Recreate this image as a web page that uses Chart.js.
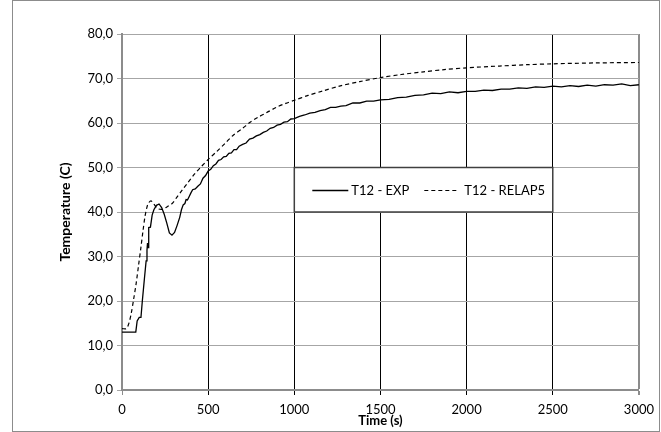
<!DOCTYPE html>
<html>
<head>
<meta charset="utf-8">
<script src="https://cdn.jsdelivr.net/npm/chart.js@4"></script>
<style>
  html, body { margin: 0; padding: 0; background: #fff; }
  #wrap { width: 661px; height: 432px; }
</style>
</head>
<body>
<div id="wrap"><canvas id="tempChart" width="661" height="432"></canvas></div>
<script>
const expTime = [0, 40, 80, 88, 100, 110, 118, 130, 140, 145, 148, 151, 155, 165, 175, 185, 200, 215, 230, 245,
  260, 275, 290, 305, 320, 335, 345, 355, 365, 372, 380, 390, 400, 410, 425, 440, 455, 470, 485, 500,
  515, 530, 545, 560, 575, 590, 605, 620, 635, 650, 665, 680, 700, 720, 740, 760, 780, 800, 820, 840,
  860, 880, 900, 920, 940, 960, 980, 1000, 1030, 1060, 1090, 1120, 1150, 1180, 1210, 1240, 1270, 1300, 1340, 1380,
  1420, 1460, 1500, 1550, 1600, 1650, 1700, 1750, 1800, 1850, 1900, 1950, 2000, 2050, 2100, 2150, 2200, 2250, 2300, 2350,
  2400, 2450, 2500, 2550, 2600, 2650, 2700, 2750, 2800, 2850, 2900, 2950, 3000];
const expTemp = [13.0, 13.0, 13.0, 15.5, 16.3, 16.3, 20.0, 25.0, 29.0, 31.4, 33.0, 32.0, 36.5, 36.6, 39.3, 40.5, 41.5, 41.8, 41.0, 39.5,
  37.5, 35.3, 34.8, 35.4, 37.0, 38.8, 40.5, 41.6, 41.9, 42.8, 42.7, 43.5, 44.3, 45.0, 45.2, 45.8, 46.3, 47.6, 48.2, 49.2,
  49.6, 50.4, 50.8, 51.6, 51.8, 52.4, 52.5, 53.2, 53.3, 54.0, 54.0, 54.8, 55.2, 55.5, 56.4, 56.6, 57.1, 57.4, 57.9, 58.2,
  58.8, 59.0, 59.5, 59.7, 60.2, 60.3, 60.9, 61.0, 61.5, 61.8, 62.2, 62.4, 62.8, 63.0, 63.5, 63.5, 63.8, 63.9, 64.5, 64.5,
  64.9, 64.9, 65.2, 65.3, 65.7, 65.8, 66.2, 66.3, 66.7, 66.6, 67.0, 66.8, 67.1, 67.1, 67.4, 67.3, 67.6, 67.6, 67.9, 67.8,
  68.1, 68.0, 68.3, 68.1, 68.4, 68.2, 68.5, 68.3, 68.6, 68.5, 68.8, 68.4, 68.6];

// T12 - RELAP5 (calculated)
const relapTime = [0, 25, 40, 53, 68, 82, 96, 110, 122, 133, 143, 152, 168, 183, 206, 234, 263, 291, 320, 349,
  380, 420, 460, 500, 550, 600, 644, 700, 741, 790, 838, 900, 950, 1000, 1080, 1166, 1262, 1380, 1500, 1620,
  1750, 1870, 2000, 2190, 2350, 2500, 2750, 3000];
const relapTemp = [13.8, 13.8, 15.0, 17.1, 20.5, 23.9, 28.0, 32.1, 35.8, 38.9, 40.8, 41.9, 42.5, 41.9, 40.8, 40.6, 41.2, 41.9, 43.4, 44.9,
  46.5, 48.5, 50.2, 51.8, 53.6, 55.5, 57.2, 58.8, 60.1, 61.3, 62.3, 63.6, 64.4, 65.1, 66.2, 67.2, 68.3, 69.3, 70.2, 70.9,
  71.5, 72.0, 72.4, 72.8, 73.1, 73.3, 73.5, 73.6];

const xTicks = [0, 500, 1000, 1500, 2000, 2500, 3000];
const yTicks = [0, 10, 20, 30, 40, 50, 60, 70, 80];

const FONT = 'Lato, "Open Sans", sans-serif';
const GRID_GRAY = '#a6a6a6';
const AXIS_GRAY = '#8c8c8c';

function toPoints(xs, ys) {
  return xs.map((x, i) => ({ x: x, y: ys[i] }));
}

// legend box sits inside the plot, between 1000..2500 s and 40..50 C
const innerLegend = {
  id: 'innerLegend',
  afterDatasetsDraw(chart) {
    const { ctx, scales } = chart;
    const left = scales.x.getPixelForValue(1000);
    const right = scales.x.getPixelForValue(2500);
    const top = scales.y.getPixelForValue(50);
    const bottom = scales.y.getPixelForValue(40);
    const midY = Math.round((top + bottom) / 2) + 0.5;
    ctx.save();
    ctx.fillStyle = '#fff';
    ctx.fillRect(left, top, right - left, bottom - top);
    ctx.strokeStyle = '#404040';
    ctx.lineWidth = 1.5;
    ctx.strokeRect(left, top, right - left, bottom - top);

    const ds = chart.data.datasets;
    const entries = [
      { lineFrom: 18, lineTo: 54, textAt: 57 },
      { lineFrom: 130, lineTo: 164, textAt: 170 }
    ];
    ctx.font = '13px ' + FONT;
    ctx.textBaseline = 'middle';
    ctx.fillStyle = '#000';
    entries.forEach((e, i) => {
      ctx.beginPath();
      ctx.strokeStyle = ds[i].borderColor;
      ctx.lineWidth = ds[i].borderWidth;
      ctx.setLineDash(ds[i].borderDash || []);
      ctx.moveTo(left + e.lineFrom, midY);
      ctx.lineTo(left + e.lineTo, midY);
      ctx.stroke();
      ctx.setLineDash([]);
      ctx.fillText(ds[i].label, left + e.textAt, midY);
    });
    ctx.restore();
  }
};

// thin frame round the whole chart
const outerFrame = {
  id: 'outerFrame',
  afterDraw(chart) {
    const ctx = chart.ctx;
    ctx.save();
    ctx.strokeStyle = '#8c8c8c';
    ctx.lineWidth = 1;
    ctx.strokeRect(12.5, 0.5, 647, 431);
    ctx.restore();
  }
};

const ctx = document.getElementById('tempChart').getContext('2d');
new Chart(ctx, {
  type: 'line',
  data: {
    datasets: [
      {
        label: 'T12 - EXP',
        data: toPoints(expTime, expTemp),
        borderColor: '#000',
        borderWidth: 1.3,
        pointRadius: 0,
        tension: 0
      },
      {
        label: 'T12 - RELAP5',
        data: toPoints(relapTime, relapTemp),
        borderColor: '#000',
        borderWidth: 1.2,
        borderDash: [4, 3],
        pointRadius: 0,
        tension: 0.3
      }
    ]
  },
  options: {
    responsive: false,
    animation: false,
    layout: { padding: { left: 54, right: 21, top: 34, bottom: 0 } },
    plugins: {
      legend: { display: false },
      tooltip: { enabled: false }
    },
    scales: {
      x: {
        type: 'linear',
        min: 0,
        max: 3000,
        afterBuildTicks: (axis) => { axis.ticks = xTicks.map(v => ({ value: v })); },
        afterFit: (axis) => { axis.height = 42; },
        ticks: {
          color: '#000',
          font: { family: FONT, size: 13 },
          padding: 7,
          maxRotation: 0,
          callback: (v) => String(v)
        },
        grid: {
          color: (c) => (c.tick && (c.tick.value === 0 || c.tick.value === 3000)) ? AXIS_GRAY : '#000',
          lineWidth: (c) => (c.tick && c.tick.value === 3000) ? 2 : 1,
          tickLength: 5
        },
        border: { color: AXIS_GRAY, width: 2 },
        title: {
          display: true,
          text: 'Time (s)',
          color: '#000',
          font: { family: FONT, size: 13, weight: 'bold' },
          padding: { top: 0, bottom: 3 }
        }
      },
      y: {
        min: 0,
        max: 80,
        afterBuildTicks: (axis) => { axis.ticks = yTicks.map(v => ({ value: v })); },
        afterFit: (axis) => { axis.width = 68; },
        ticks: {
          color: '#000',
          font: { family: FONT, size: 13 },
          padding: 4,
          callback: (v) => v.toFixed(1).replace('.', ',')
        },
        grid: { color: GRID_GRAY, lineWidth: 1, tickLength: 5 },
        border: { color: AXIS_GRAY, width: 2 },
        title: {
          display: true,
          text: 'Temperature (C)',
          color: '#000',
          font: { family: FONT, size: 14, weight: 'bold' },
          padding: { top: 3, bottom: 0 }
        }
      }
    }
  },
  plugins: [innerLegend, outerFrame]
});
</script>
</body>
</html>
